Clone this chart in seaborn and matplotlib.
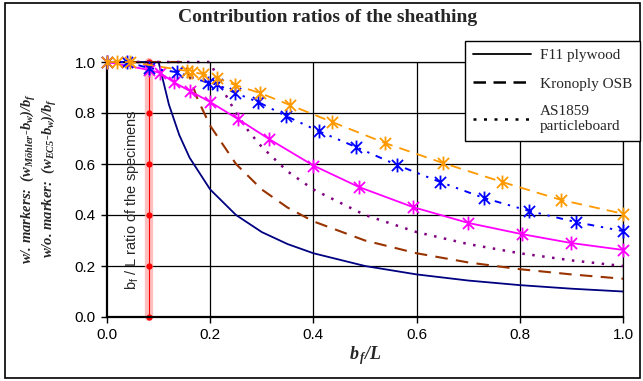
import matplotlib
matplotlib.use("Agg")
import matplotlib.pyplot as plt
from matplotlib.path import Path
from matplotlib.lines import Line2D
from matplotlib.patches import Rectangle
import seaborn as sns

# ---------------- data ----------------
# EC5 curves (no markers)
x_f11 = [0.0, 0.10, 0.12, 0.14, 0.16, 0.20, 0.25, 0.30, 0.35, 0.40, 0.50, 0.60, 0.70, 0.80, 0.90, 1.00]
y_f11 = [1.0, 1.00, 0.833, 0.714, 0.625, 0.50, 0.40, 0.333, 0.286, 0.25, 0.20, 0.167, 0.143, 0.125, 0.111, 0.10]

x_osb = [0.0, 0.15, 0.175, 0.20, 0.25, 0.30, 0.35, 0.40, 0.50, 0.60, 0.70, 0.80, 0.90, 1.00]
y_osb = [1.0, 1.00, 0.857, 0.75, 0.60, 0.50, 0.429, 0.375, 0.30, 0.25, 0.214, 0.1875, 0.167, 0.15]

x_as = [0.0, 0.20, 0.225, 0.25, 0.275, 0.30, 0.35, 0.40, 0.50, 0.60, 0.70, 0.80, 0.90, 1.00]
y_as = [1.0, 1.00, 0.889, 0.80, 0.727, 0.667, 0.571, 0.50, 0.40, 0.333, 0.286, 0.25, 0.222, 0.20]

# Moehler curves (with markers)
x_mf11 = [0.0, 0.081, 0.103, 0.13, 0.161, 0.20, 0.254, 0.314, 0.40, 0.488, 0.593, 0.70, 0.804, 0.90, 1.00]
y_mf11 = [1.0, 0.969, 0.957, 0.92, 0.886, 0.843, 0.776, 0.698, 0.594, 0.51, 0.431, 0.369, 0.325, 0.29, 0.263]

x_mas = [0.0, 0.039, 0.081, 0.136, 0.196, 0.213, 0.248, 0.293, 0.347, 0.41, 0.482, 0.562, 0.645, 0.73, 0.818, 0.909, 1.00]
y_mas = [1.0, 1.0, 0.976, 0.96, 0.918, 0.912, 0.879, 0.843, 0.788, 0.729, 0.667, 0.596, 0.53, 0.467, 0.416, 0.372, 0.337]

x_mosb = [0.0, 0.02, 0.045, 0.155, 0.165, 0.186, 0.213, 0.248, 0.297, 0.355, 0.436, 0.539, 0.651, 0.765, 0.88, 1.00]
y_mosb = [1.0, 1.0, 1.0, 0.965, 0.96, 0.953, 0.937, 0.91, 0.878, 0.831, 0.765, 0.682, 0.604, 0.53, 0.459, 0.405]

# specimen ratio line
x_spec = [0.082] * 6
y_spec = [0.0, 0.2, 0.4, 0.6, 0.8, 1.0]

ticks = [0.0, 0.2, 0.4, 0.6, 0.8, 1.0]
tick_labels = ["0.0", "0.2", "0.4", "0.6", "0.8", "1.0"]
legend_labels = ["F11 plywood", "Kronoply OSB", "AS1859\nparticleboard"]

# ---------------- style ----------------
sns.set_theme(style="white")
plt.rcParams['font.family'] = ['Liberation Sans', 'DejaVu Sans']
plt.rcParams['mathtext.fontset'] = 'custom'
plt.rcParams['mathtext.rm'] = 'Liberation Serif:italic:bold'
plt.rcParams['mathtext.it'] = 'Liberation Serif:italic:bold'
plt.rcParams['mathtext.bf'] = 'Liberation Serif:italic:bold'

W, H = 643, 381
fig = plt.figure(figsize=(W / 100, H / 100), dpi=100)
ax = fig.add_axes([107 / W, 1 - 317 / H, 516 / W, 255 / H])

star = Path([(-1, -1), (1, 1), (-1, 1), (1, -1), (0, -1.25), (0, 1.25)],
            [Path.MOVETO, Path.LINETO, Path.MOVETO, Path.LINETO, Path.MOVETO, Path.LINETO])

# grid
for t in ticks[1:]:
    ax.axhline(t, color="black", lw=0.9, zorder=0.5)
    ax.axvline(t, color="black", lw=0.9, zorder=0.5)

# specimen band
sns.lineplot(x=x_spec, y=y_spec, ax=ax, color="#ffb0b0", lw=6, alpha=0.8,
             estimator=None, sort=False, zorder=1, clip_on=False)
sns.lineplot(x=x_spec, y=y_spec, ax=ax, color="#ff0000", lw=0.8,
             estimator=None, sort=False, zorder=1.1, clip_on=False,
             marker="o", markersize=4.5, markeredgecolor="#ff0000", markeredgewidth=0)

# EC5 lines
sns.lineplot(x=x_f11, y=y_f11, ax=ax, color="#000080", lw=1.3, estimator=None,
             sort=False, zorder=2, clip_on=False)
sns.lineplot(x=x_osb, y=y_osb, ax=ax, color="#993300", lw=1.5, estimator=None,
             sort=False, zorder=2, clip_on=False, linestyle=(0, (6, 4)))
sns.lineplot(x=x_as, y=y_as, ax=ax, color="#800080", lw=1.8, estimator=None,
             sort=False, zorder=2, clip_on=False, linestyle=(0, (1, 3)))

# Moehler lines
mk = dict(marker=star, markersize=10, markeredgewidth=1.3, estimator=None,
          sort=False, zorder=3, clip_on=False)
sns.lineplot(x=x_mf11, y=y_mf11, ax=ax, color="#ff00ff", lw=1.3,
             markeredgecolor="#ff00ff", **mk)
sns.lineplot(x=x_mas, y=y_mas, ax=ax, color="#0000ff", lw=1.4,
             markeredgecolor="#0000ff", linestyle=(0, (3.5, 3.5, 1.2, 3.5, 1.2, 3.5)), **mk)
sns.lineplot(x=x_mosb, y=y_mosb, ax=ax, color="#ff9900", lw=1.3,
             markeredgecolor="#ff9900", linestyle=(0, (6, 4)), **mk)

ax.text(0.048, 0.46, r"b$_\mathregular{f}$ / L ratio of the specimens", rotation=90,
        ha="center", va="center", fontsize=10.5, family="Liberation Sans")

ax.set_xlim(0, 1)
ax.set_ylim(0, 1)
ax.set_xticks(ticks)
ax.set_xticklabels(tick_labels)
ax.set_yticks(ticks)
ax.set_yticklabels(tick_labels)
ax.tick_params(axis="both", direction="out", length=4, width=1, colors="black",
               labelsize=11, pad=4, bottom=True, left=True)
for s in ["left", "bottom"]:
    ax.spines[s].set_color("black")
    ax.spines[s].set_linewidth(1.6)
for s in ["top", "right"]:
    ax.spines[s].set_color("black")
    ax.spines[s].set_linewidth(0.9)
ax.set_xlabel("")
ax.set_ylabel("")

# x-label
fig.text(365 / W, 1 - 356 / H, r"$b_{\,f}/L$", ha="center", va="center", fontsize=13)

# y-label (two lines)
ser_bi = dict(family="Liberation Serif", weight="bold", style="italic", fontsize=10.5,
              rotation=90, ha="center", va="center")
fig.text(29 / W, 1 - 178 / H, r"w/. markers:  ($w_{Möhler}$-$b_{w}$)/$b_{f}$", **ser_bi)
fig.text(50 / W, 1 - 178 / H, r"w/o. marker:  ($w_{EC5}$-$b_{w}$)/$b_{f}$", **ser_bi)

# title
fig.text(328 / W, 1 - 18 / H, "Contribution ratios of the sheathing", family="Liberation Serif",
         weight="bold", fontsize=14, ha="center", va="center")

# legend
handles = [Line2D([], [], color="black", lw=1.3),
           Line2D([], [], color="black", lw=1.8, linestyle=(0, (5, 3))),
           Line2D([], [], color="black", lw=1.8, linestyle=(0, (1.2, 3)))]
leg = fig.legend(handles, legend_labels, loc="upper left",
                 bbox_to_anchor=(465 / W, 1 - 41 / H), frameon=True, fancybox=False,
                 shadow=False, prop={"family": "Liberation Serif", "size": 11},
                 handlelength=3.8, handletextpad=0.6, labelspacing=0.95,
                 borderpad=0.5, borderaxespad=0)
leg.get_frame().set_edgecolor("black")
leg.get_frame().set_linewidth(1.0)
leg.get_frame().set_facecolor("white")
leg.get_frame().set_alpha(1)

# figure border
fig.patches.append(Rectangle((5 / W, 3 / H), 635 / W, 375 / H, transform=fig.transFigure,
                             fill=False, edgecolor="black", lw=1.2, zorder=0))

fig.savefig("out.png", dpi=100)
